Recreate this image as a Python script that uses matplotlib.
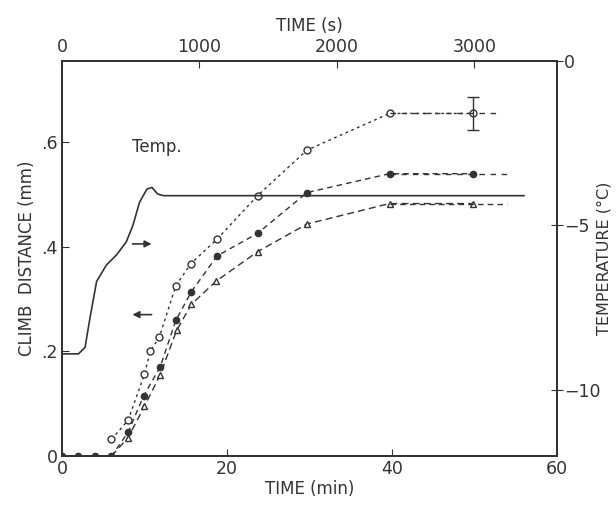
import matplotlib.pyplot as plt

# climb distance (mm) vs time (min), three runs
t_open = [6, 8, 10, 10.7, 11.8, 13.8, 15.6, 18.8, 23.7, 29.7, 39.7, 49.8]
d_open = [0.032, 0.068, 0.156, 0.200, 0.227, 0.325, 0.367, 0.414, 0.497, 0.584, 0.654, 0.654]
t_fill = [0, 2, 4, 6, 8, 9.9, 11.9, 13.8, 15.7, 18.8, 23.7, 29.7, 39.7, 49.8]
d_fill = [0, 0, 0, 0, 0.045, 0.115, 0.170, 0.259, 0.314, 0.382, 0.425, 0.503, 0.539, 0.539]
t_tri = [6, 8, 10, 11.9, 13.9, 15.7, 18.7, 23.7, 29.7, 39.7, 49.8]
d_tri = [0, 0.035, 0.095, 0.155, 0.240, 0.290, 0.334, 0.390, 0.443, 0.482, 0.482]
err_open = 0.031

# temperature (deg C) vs time (min)
t_temp = [0, 2.0, 2.8, 3.4, 4.2, 5.4, 6.6, 7.8, 8.6, 9.4, 10.3, 10.9, 11.6, 12.3, 56]
temp = [-8.9, -8.9, -8.7, -7.8, -6.7, -6.2, -5.9, -5.5, -5.0, -4.3, -3.9, -3.85, -4.05, -4.1, -4.1]

ink = '#333333'
plt.rcParams['font.family'] = ['DejaVu Sans']
plt.rcParams['font.size'] = 12

fig = plt.figure(figsize=(6.16, 5.13), dpi=100)
ax = fig.add_axes([0.1006, 0.111, 0.8036, 0.771])

ax.plot(t_open, d_open, linestyle=(0, (2, 2.5)), color=ink, lw=1,
        marker='o', mfc='white', mec=ink, ms=5)
ax.plot([t_open[-2], 53], [d_open[-2], d_open[-1]], linestyle=(0, (4, 4)), color=ink, lw=1)
ax.errorbar([t_open[-1]], [d_open[-1]], yerr=err_open, fmt='none', ecolor=ink, capsize=4, lw=1)

ax.plot(t_fill, d_fill, linestyle=(0, (4, 3)), color=ink, lw=1,
        marker='o', mfc=ink, mec=ink, ms=4.5)
ax.plot([t_fill[-2], 54], [d_fill[-2], d_fill[-1]], linestyle=(0, (4, 4)), color=ink, lw=1)

ax.plot(t_tri, d_tri, linestyle=(0, (5, 3)), color=ink, lw=1,
        marker='^', mfc='white', mec=ink, ms=4)
ax.plot([t_tri[-2], 54], [d_tri[-2], d_tri[-1]], linestyle=(0, (4, 3)), color=ink, lw=1)

ax.set_xlim(0, 60)
ax.set_ylim(0, 0.755)
ax.set_xticks([0, 20, 40, 60])
ax.set_yticks([0, 0.2, 0.4, 0.6])
ax.set_yticklabels(['0', '.2', '.4', '.6'])
ax.set_xlabel('TIME (min)', color=ink, labelpad=1)
ax.set_ylabel('CLIMB  DISTANCE (mm)', color=ink, labelpad=4)
ax.tick_params(direction='in', length=5, colors=ink, labelsize=12.5, pad=3)

axt = ax.twinx()
axt.plot(t_temp, temp, color=ink, lw=1.2)
axt.set_ylim(-12, 0)
axt.set_yticks([0, -5, -10])
axt.set_yticklabels(['0', '\u22125', '\u221210'])
axt.set_ylabel('TEMPERATURE (\u00b0C)', color=ink, fontsize=11.5)
axt.yaxis.set_label_coords(1.08, 0.5)
axt.tick_params(direction='inout', length=8, colors=ink, labelsize=12.5, pad=1)

axs = ax.twiny()
axs.set_xlim(0, 3600)
axs.set_xticks([0, 1000, 2000, 3000])
axs.set_xlabel('TIME (s)', color=ink, labelpad=5)
axs.tick_params(direction='in', length=5, colors=ink, labelsize=12.5, pad=3)

for a in (ax, axt, axs):
    for s in a.spines.values():
        s.set_color(ink)
        s.set_linewidth(1.2)

ax.text(8.5, 0.58, 'Temp.', fontsize=12, color=ink)
ax.annotate('', xy=(11.2, 0.405), xytext=(8.2, 0.405),
            arrowprops=dict(arrowstyle='-|>', color=ink, lw=1.2, mutation_scale=10))
ax.annotate('', xy=(8.2, 0.27), xytext=(11.2, 0.27),
            arrowprops=dict(arrowstyle='-|>', color=ink, lw=1.2, mutation_scale=10))

fig.savefig('out.png', dpi=100)
